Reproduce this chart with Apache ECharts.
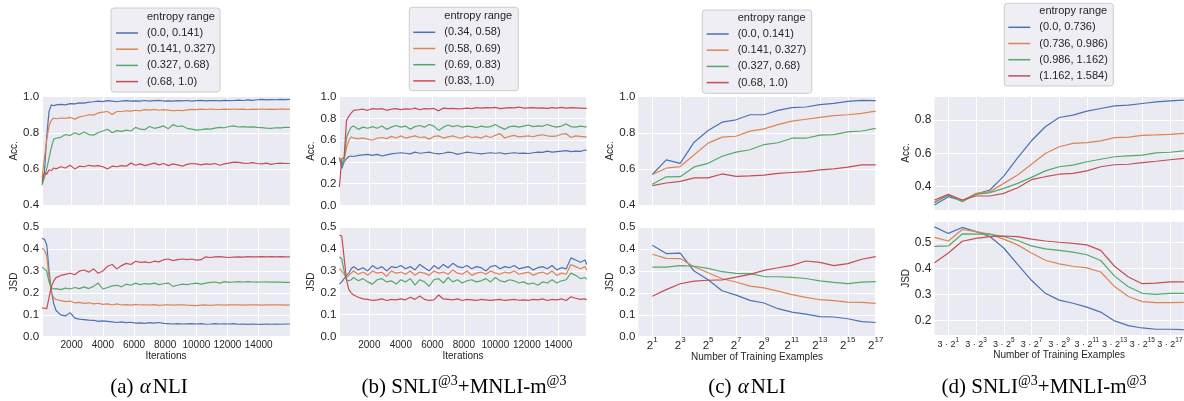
<!DOCTYPE html>
<html><head><meta charset="utf-8">
<script src="https://cdn.jsdelivr.net/npm/echarts@6.0.0/dist/echarts.min.js"></script>
<style>html,body{margin:0;padding:0;background:#fff}#c{width:1184px;height:401px}</style>
</head><body><div id="c"></div>
<script>
// ---------------- data ----------------
const NAMES_A = ['(0.0, 0.141)', '(0.141, 0.327)', '(0.327, 0.68)', '(0.68, 1.0)'];
const NAMES_B = ['(0.34, 0.58)', '(0.58, 0.69)', '(0.69, 0.83)', '(0.83, 1.0)'];
const NAMES_C = ['(0.0, 0.141)', '(0.141, 0.327)', '(0.327, 0.68)', '(0.68, 1.0)'];
const NAMES_D = ['(0.0, 0.736)', '(0.736, 0.986)', '(0.986, 1.162)', '(1.162, 1.584)'];
const LEGEND_TITLE = 'entropy range';

const ITERS_A = [100,250,400,550,700,850,1000,
 1300,1600,1900,2200,2500,2800,3100,3400,3700,4000,
 4300,4600,4900,5200,5500,5800,6100,6400,6700,7000,
 7300,7600,7900,8200,8500,8800,9100,9400,9700,10000,
 10300,10600,10900,11200,11500,11800,12100,12400,12700,13000,
 13300,13600,13900,14200,14500,14800,15100,15400,15700,16000];
const ITERS_B = [100,250,400,550,700,850,1000,
 1300,1600,1900,2200,2500,2800,3100,3400,3700,4000,
 4300,4600,4900,5200,5500,5800,6100,6400,6700,7000,
 7300,7600,7900,8200,8500,8800,9100,9400,9700,10000,
 10300,10600,10900,11200,11500,11800,12100,12400,12700,13000,
 13300,13600,13900,14200,14500,14800,15100,15400,15700,15800];

// (a) alphaNLI, accuracy
const A_ACC_0 = [0.52,0.58,0.78,0.92,0.955,0.95,0.955,
 0.958,0.955,0.962,0.96,0.966,0.964,0.97,0.972,0.975,0.973,
 0.978,0.975,0.972,0.976,0.978,0.975,0.977,0.976,0.979,0.975,
 0.978,0.98,0.976,0.977,0.975,0.978,0.977,0.979,0.976,0.978,
 0.98,0.977,0.978,0.979,0.977,0.98,0.978,0.979,0.981,0.979,
 0.982,0.98,0.983,0.985,0.982,0.984,0.983,0.985,0.984,0.985];
const A_ACC_1 = [0.55,0.66,0.76,0.84,0.87,0.882,0.878,
 0.882,0.88,0.885,0.876,0.888,0.893,0.9,0.898,0.91,0.915,
 0.918,0.902,0.918,0.918,0.922,0.92,0.925,0.922,0.928,0.926,
 0.93,0.925,0.928,0.926,0.922,0.925,0.923,0.927,0.93,0.928,
 0.931,0.929,0.932,0.93,0.929,0.931,0.93,0.932,0.93,0.931,
 0.929,0.931,0.93,0.932,0.93,0.931,0.93,0.932,0.931,0.93];
const A_ACC_2 = [0.51,0.55,0.6,0.66,0.72,0.765,0.77,
 0.775,0.79,0.785,0.8,0.79,0.805,0.79,0.787,0.8,0.81,
 0.82,0.8,0.812,0.808,0.815,0.81,0.83,0.82,0.818,0.835,
 0.825,0.83,0.838,0.823,0.845,0.835,0.838,0.825,0.82,0.815,
 0.818,0.822,0.82,0.826,0.83,0.828,0.835,0.838,0.832,0.834,
 0.831,0.833,0.83,0.829,0.826,0.825,0.828,0.827,0.83,0.83];
const A_ACC_3 = [0.535,0.58,0.57,0.595,0.59,0.605,0.6,
 0.612,0.605,0.62,0.6,0.615,0.612,0.62,0.615,0.618,0.612,
 0.6,0.615,0.612,0.618,0.615,0.632,0.62,0.628,0.618,0.625,
 0.632,0.622,0.63,0.618,0.628,0.622,0.615,0.625,0.63,0.628,
 0.622,0.628,0.625,0.63,0.62,0.628,0.632,0.638,0.636,0.632,
 0.63,0.635,0.63,0.628,0.632,0.625,0.63,0.632,0.63,0.63];
// (a) alphaNLI, JSD
const A_JSD_0 = [0.45,0.445,0.42,0.3,0.21,0.15,0.12,
 0.1,0.095,0.11,0.085,0.08,0.078,0.076,0.075,0.07,0.072,
 0.07,0.068,0.065,0.068,0.064,0.066,0.062,0.063,0.061,0.064,
 0.062,0.065,0.061,0.06,0.058,0.06,0.058,0.059,0.06,0.058,
 0.06,0.057,0.058,0.06,0.058,0.059,0.058,0.06,0.057,0.058,
 0.056,0.058,0.057,0.056,0.058,0.057,0.058,0.057,0.058,0.058];
const A_JSD_1 = [0.405,0.395,0.37,0.27,0.2,0.178,0.17,
 0.165,0.16,0.163,0.155,0.157,0.152,0.155,0.15,0.153,0.148,
 0.15,0.145,0.15,0.145,0.147,0.144,0.148,0.145,0.146,0.144,
 0.147,0.143,0.145,0.146,0.144,0.145,0.146,0.144,0.143,0.142,
 0.144,0.145,0.143,0.145,0.146,0.144,0.145,0.146,0.145,0.144,
 0.145,0.146,0.145,0.144,0.145,0.146,0.145,0.145,0.144,0.145];
const A_JSD_2 = [0.318,0.31,0.3,0.25,0.225,0.218,0.22,
 0.215,0.222,0.218,0.225,0.22,0.228,0.22,0.23,0.245,0.218,
 0.225,0.232,0.235,0.228,0.24,0.235,0.245,0.238,0.243,0.24,
 0.245,0.238,0.242,0.245,0.23,0.235,0.24,0.238,0.242,0.245,
 0.24,0.245,0.248,0.25,0.245,0.252,0.248,0.25,0.252,0.25,
 0.252,0.25,0.249,0.25,0.251,0.249,0.25,0.249,0.248,0.248];
const A_JSD_3 = [0.132,0.13,0.128,0.18,0.23,0.255,0.27,
 0.28,0.285,0.29,0.283,0.3,0.305,0.295,0.31,0.29,0.3,
 0.322,0.33,0.31,0.325,0.335,0.33,0.345,0.34,0.342,0.338,
 0.345,0.342,0.352,0.355,0.348,0.352,0.355,0.352,0.355,0.35,
 0.352,0.365,0.362,0.365,0.366,0.364,0.362,0.364,0.365,0.364,
 0.366,0.365,0.365,0.366,0.365,0.366,0.365,0.366,0.365,0.365];

// (b) SNLI+MNLI-m, accuracy
const B_ACC_0 = [0.44,0.34,0.4,0.43,0.45,0.455,0.45,
 0.46,0.465,0.47,0.46,0.47,0.455,0.465,0.475,0.48,0.485,
 0.48,0.475,0.49,0.48,0.485,0.49,0.48,0.475,0.48,0.49,
 0.485,0.47,0.48,0.49,0.485,0.48,0.475,0.48,0.485,0.48,
 0.485,0.475,0.48,0.485,0.48,0.482,0.478,0.485,0.49,0.488,
 0.5,0.49,0.495,0.5,0.505,0.495,0.5,0.498,0.51,0.505];
const B_ACC_1 = [0.44,0.38,0.42,0.53,0.6,0.63,0.62,
 0.615,0.62,0.61,0.6,0.62,0.625,0.615,0.635,0.62,0.64,
 0.62,0.63,0.64,0.625,0.63,0.61,0.635,0.64,0.62,0.63,
 0.64,0.625,0.62,0.64,0.625,0.63,0.62,0.64,0.625,0.645,
 0.66,0.62,0.635,0.645,0.63,0.635,0.64,0.632,0.645,0.65,
 0.64,0.635,0.64,0.655,0.66,0.625,0.64,0.635,0.63,0.63];
const B_ACC_2 = [0.44,0.37,0.43,0.62,0.68,0.72,0.73,
 0.7,0.72,0.71,0.725,0.71,0.73,0.7,0.72,0.735,0.72,
 0.73,0.7,0.725,0.735,0.72,0.745,0.73,0.69,0.72,0.74,
 0.725,0.735,0.72,0.73,0.725,0.715,0.73,0.72,0.725,0.745,
 0.72,0.7,0.725,0.73,0.72,0.73,0.74,0.725,0.732,0.728,
 0.745,0.73,0.72,0.73,0.75,0.725,0.72,0.73,0.722,0.725];
const B_ACC_3 = [0.17,0.43,0.44,0.78,0.82,0.85,0.875,
 0.88,0.885,0.875,0.89,0.885,0.89,0.875,0.885,0.89,0.882,
 0.888,0.885,0.895,0.88,0.89,0.888,0.892,0.87,0.895,0.89,
 0.893,0.888,0.89,0.895,0.89,0.9,0.895,0.9,0.898,0.902,
 0.89,0.895,0.9,0.898,0.905,0.895,0.898,0.9,0.895,0.898,
 0.892,0.9,0.895,0.902,0.895,0.9,0.898,0.895,0.892,0.892];
// (b) SNLI+MNLI-m, JSD
const B_JSD_0 = [0.24,0.25,0.265,0.28,0.29,0.31,0.32,
 0.305,0.315,0.3,0.325,0.31,0.32,0.3,0.32,0.315,0.325,
 0.31,0.32,0.305,0.33,0.315,0.3,0.325,0.31,0.33,0.315,
 0.335,0.32,0.315,0.325,0.31,0.32,0.315,0.3,0.32,0.325,
 0.31,0.32,0.315,0.325,0.31,0.315,0.32,0.305,0.315,0.32,
 0.31,0.325,0.305,0.315,0.31,0.36,0.35,0.34,0.35,0.33];
const B_JSD_1 = [0.31,0.3,0.285,0.27,0.28,0.29,0.3,
 0.285,0.295,0.28,0.3,0.29,0.295,0.275,0.3,0.29,0.295,
 0.285,0.3,0.28,0.295,0.29,0.28,0.3,0.29,0.295,0.285,
 0.305,0.29,0.285,0.3,0.28,0.29,0.295,0.285,0.3,0.29,
 0.285,0.295,0.29,0.3,0.285,0.29,0.295,0.28,0.29,0.295,
 0.285,0.3,0.28,0.29,0.285,0.33,0.32,0.31,0.32,0.305];
const B_JSD_2 = [0.365,0.355,0.3,0.26,0.255,0.26,0.27,
 0.255,0.265,0.25,0.24,0.26,0.265,0.25,0.255,0.24,0.26,
 0.25,0.265,0.235,0.26,0.25,0.23,0.26,0.265,0.245,0.27,
 0.25,0.26,0.245,0.255,0.26,0.25,0.255,0.265,0.25,0.27,
 0.255,0.25,0.26,0.255,0.245,0.25,0.24,0.245,0.235,0.25,
 0.245,0.26,0.245,0.255,0.26,0.29,0.28,0.265,0.27,0.262];
const B_JSD_3 = [0.465,0.46,0.36,0.26,0.215,0.2,0.19,
 0.18,0.172,0.17,0.165,0.168,0.172,0.165,0.17,0.168,0.172,
 0.168,0.18,0.17,0.185,0.17,0.165,0.168,0.19,0.172,0.17,
 0.168,0.172,0.165,0.17,0.168,0.165,0.17,0.168,0.165,0.168,
 0.17,0.165,0.168,0.17,0.166,0.168,0.165,0.17,0.168,0.172,
 0.165,0.17,0.168,0.172,0.165,0.182,0.175,0.17,0.172,0.168];

// (c) alphaNLI vs training examples (exponent of 2)
const C_CATS = ['0','1','2','3','4','5','6','7','8','9','10','11','12','13','14','15','16','17'];
const C_EXP = [1,2,3,4,5,6,7,8,9,10,11,12,13,14,15,16,17];
const C_ACC_0 = [0.569,0.65,0.631,0.748,0.813,0.859,0.872,0.9,0.9,0.924,0.939,0.943,0.956,0.963,0.974,0.98,0.978];
const C_ACC_1 = [0.569,0.604,0.613,0.678,0.743,0.776,0.781,0.809,0.822,0.845,0.865,0.875,0.885,0.895,0.9,0.908,0.92];
const C_ACC_2 = [0.515,0.556,0.557,0.611,0.631,0.67,0.693,0.706,0.735,0.745,0.77,0.77,0.787,0.79,0.805,0.81,0.825];
const C_ACC_3 = [0.507,0.522,0.531,0.55,0.55,0.572,0.559,0.561,0.565,0.575,0.58,0.585,0.595,0.6,0.61,0.622,0.622];
const C_JSD_0 = [0.418,0.38,0.382,0.3,0.26,0.21,0.19,0.166,0.154,0.128,0.112,0.103,0.092,0.09,0.082,0.069,0.065];
const C_JSD_1 = [0.377,0.358,0.357,0.32,0.292,0.265,0.25,0.231,0.223,0.208,0.192,0.18,0.169,0.165,0.158,0.157,0.152];
const C_JSD_2 = [0.318,0.318,0.325,0.322,0.312,0.297,0.289,0.288,0.275,0.274,0.271,0.266,0.255,0.248,0.243,0.249,0.252];
const C_JSD_3 = [0.185,0.215,0.242,0.254,0.258,0.26,0.272,0.285,0.303,0.315,0.326,0.346,0.34,0.325,0.334,0.354,0.366];

// (d) SNLI+MNLI-m vs training examples (3 * 2^k)
const D_CATS = ['0','1','2','3','4','5','6','7','8','9','10','11','12','13','14','15','16','17','18'];
const D_EXP = [0,1,2,3,4,5,6,7,8,9,10,11,12,13,14,15,16,17,18];
const D_ACC_0 = [0.29,0.34,0.316,0.356,0.38,0.464,0.573,0.676,0.76,0.816,0.83,0.854,0.87,0.886,0.89,0.9,0.91,0.916,0.92];
const D_ACC_1 = [0.31,0.35,0.316,0.36,0.37,0.42,0.47,0.535,0.6,0.64,0.66,0.665,0.675,0.695,0.698,0.708,0.711,0.715,0.72];
const D_ACC_2 = [0.304,0.35,0.31,0.354,0.364,0.39,0.42,0.456,0.495,0.52,0.53,0.55,0.565,0.58,0.585,0.59,0.603,0.607,0.615];
const D_ACC_3 = [0.32,0.354,0.32,0.344,0.344,0.36,0.394,0.442,0.46,0.475,0.48,0.495,0.52,0.532,0.535,0.545,0.553,0.562,0.57];
const D_JSD_0 = [0.56,0.535,0.558,0.542,0.523,0.479,0.416,0.355,0.305,0.279,0.267,0.252,0.233,0.199,0.181,0.172,0.167,0.167,0.166];
const D_JSD_1 = [0.52,0.506,0.55,0.542,0.532,0.513,0.491,0.46,0.432,0.418,0.409,0.403,0.387,0.331,0.293,0.273,0.269,0.269,0.27];
const D_JSD_2 = [0.485,0.487,0.533,0.532,0.532,0.523,0.508,0.487,0.476,0.47,0.463,0.453,0.431,0.371,0.33,0.305,0.301,0.305,0.305];
const D_JSD_3 = [0.422,0.46,0.505,0.516,0.523,0.525,0.523,0.513,0.506,0.501,0.497,0.491,0.47,0.409,0.368,0.342,0.344,0.349,0.349];

// ---------------- styling ----------------
const COLORS = ['#4C72B0', '#DD8452', '#55A868', '#C44E52'];
const SANS = 'Liberation Sans';
const SERIF = 'Liberation Serif';
const TXT = '#262626';
const BG = '#EAEAF2';

const GRIDS = [
  {left: 42.06, top: 96.7, width: 247.8, height: 108.3},
  {left: 42.06, top: 227.3, width: 247.8, height: 109.4},
  {left: 339.4, top: 96.7, width: 247.3, height: 108.8},
  {left: 339.4, top: 227.3, width: 247.3, height: 109.2},
  {left: 638.3, top: 96.7, width: 237.4, height: 108.3},
  {left: 638.3, top: 227.3, width: 237.4, height: 109.4},
  {left: 934.5, top: 96, width: 249.3, height: 114},
  {left: 934.5, top: 221.7, width: 249.3, height: 113.3}
].map(g => Object.assign({show: true, backgroundColor: BG, borderWidth: 0, containLabel: false, outerBoundsMode: 'none'}, g));

const noLine = {axisLine: {show: false}, axisTick: {show: false}};
const white = {show: true, lineStyle: {color: '#ffffff', width: 1}};

function iterAxis(gi, max, show) {
  return Object.assign({
    type: 'value', gridIndex: gi, min: 100, max: max, splitNumber: 8,
    splitLine: white,
    axisLabel: {show: show, showMinLabel: false, showMaxLabel: false, margin: 4, fontSize: 10, fontFamily: SANS, color: TXT,
      formatter: (v) => String(v)},
    name: show ? 'Iterations' : '', nameLocation: 'middle', nameGap: 14,
    nameTextStyle: {fontSize: 10, fontFamily: SANS, color: TXT}
  }, noLine);
}
const oddIdx = (i) => i % 2 === 1;
function expAxis(gi, cats, show, kind) {
  const fmt = kind === 'c' ? (v) => '{b|2}{s|' + v + '}' : (v) => '{b|3 · 2}{s|' + v + '}';
  const rich = kind === 'c'
    ? {b: {fontSize: 11.5, fontFamily: SANS, color: TXT, lineHeight: 16, verticalAlign: 'bottom'},
       s: {fontSize: 8, fontFamily: SANS, color: TXT, lineHeight: 4, verticalAlign: 'top'}}
    : {b: {fontSize: 9, fontFamily: SANS, color: TXT, lineHeight: 12, verticalAlign: 'bottom'},
       s: {fontSize: 6.5, fontFamily: SANS, color: TXT, lineHeight: 4, verticalAlign: 'top'}};
  return Object.assign({
    type: 'category', gridIndex: gi, data: cats, boundaryGap: false,
    splitLine: Object.assign({interval: oddIdx}, white),
    axisLabel: {show: show, interval: oddIdx, formatter: fmt, rich: rich, margin: kind === 'c' ? -1 : 2},
    name: show ? 'Number of Training Examples' : '', nameLocation: 'middle', nameGap: kind === 'c' ? 12 : 14,
    nameTextStyle: {fontSize: 10, fontFamily: SANS, color: TXT}
  }, noLine);
}
function valAxis(gi, name, o) {
  const ax = Object.assign({
    type: 'value', gridIndex: gi, min: o.min, max: o.max,
    splitLine: white,
    axisLabel: {margin: 3, fontSize: o.fs || 11.5, fontFamily: SANS, color: TXT,
      formatter: (v) => v.toFixed(1)},
    name: name, nameLocation: 'middle', nameRotate: 90, nameGap: o.gap,
    nameTextStyle: {fontSize: 10, fontFamily: SANS, color: TXT}
  }, noLine);
  if (o.interval) ax.interval = o.interval;
  if (o.split) { ax.splitNumber = o.split; ax.axisLabel.showMinLabel = false; ax.axisLabel.showMaxLabel = false; }
  return ax;
}

const xAxes = [
  iterAxis(0, 16000, false), iterAxis(1, 16000, true),
  iterAxis(2, 15800, false), iterAxis(3, 15800, true),
  expAxis(4, C_CATS, false, 'c'), expAxis(5, C_CATS, true, 'c'),
  expAxis(6, D_CATS, false, 'd'), expAxis(7, D_CATS, true, 'd')
];
const yAxes = [
  valAxis(0, 'Acc.', {min: 0.4, max: 1.0, interval: 0.2, gap: 21}),
  valAxis(1, 'JSD', {min: 0, max: 0.5, interval: 0.1, gap: 21}),
  valAxis(2, 'Acc.', {min: 0, max: 1.0, interval: 0.2, gap: 19}),
  valAxis(3, 'JSD', {min: 0, max: 0.5, interval: 0.1, gap: 21}),
  valAxis(4, 'Acc.', {min: 0.4, max: 1.0, interval: 0.2, gap: 21}),
  valAxis(5, 'JSD', {min: 0, max: 0.5, interval: 0.1, gap: 22}),
  valAxis(6, 'Acc.', {min: 0.26, max: 0.945, split: 3, gap: 19, fs: 12}),
  valAxis(7, 'JSD', {min: 0.145, max: 0.58, split: 4, gap: 21, fs: 12})
];

function mk(name, ci, axis, xs, ys) {
  return {
    type: 'line', name: name, xAxisIndex: axis, yAxisIndex: axis,
    data: xs.map((x, i) => [x, ys[i]]),
    symbol: 'none', showSymbol: false, silent: true, animation: false,
    lineStyle: {color: COLORS[ci], width: 1.2}, itemStyle: {color: COLORS[ci]}, z: 3
  };
}
const series = [
  mk(NAMES_A[0], 0, 0, ITERS_A, A_ACC_0), mk(NAMES_A[1], 1, 0, ITERS_A, A_ACC_1),
  mk(NAMES_A[2], 2, 0, ITERS_A, A_ACC_2), mk(NAMES_A[3], 3, 0, ITERS_A, A_ACC_3),
  mk(NAMES_A[0], 0, 1, ITERS_A, A_JSD_0), mk(NAMES_A[1], 1, 1, ITERS_A, A_JSD_1),
  mk(NAMES_A[2], 2, 1, ITERS_A, A_JSD_2), mk(NAMES_A[3], 3, 1, ITERS_A, A_JSD_3),
  mk(NAMES_B[0], 0, 2, ITERS_B, B_ACC_0), mk(NAMES_B[1], 1, 2, ITERS_B, B_ACC_1),
  mk(NAMES_B[2], 2, 2, ITERS_B, B_ACC_2), mk(NAMES_B[3], 3, 2, ITERS_B, B_ACC_3),
  mk(NAMES_B[0], 0, 3, ITERS_B, B_JSD_0), mk(NAMES_B[1], 1, 3, ITERS_B, B_JSD_1),
  mk(NAMES_B[2], 2, 3, ITERS_B, B_JSD_2), mk(NAMES_B[3], 3, 3, ITERS_B, B_JSD_3),
  mk(NAMES_C[0], 0, 4, C_EXP, C_ACC_0), mk(NAMES_C[1], 1, 4, C_EXP, C_ACC_1),
  mk(NAMES_C[2], 2, 4, C_EXP, C_ACC_2), mk(NAMES_C[3], 3, 4, C_EXP, C_ACC_3),
  mk(NAMES_C[0], 0, 5, C_EXP, C_JSD_0), mk(NAMES_C[1], 1, 5, C_EXP, C_JSD_1),
  mk(NAMES_C[2], 2, 5, C_EXP, C_JSD_2), mk(NAMES_C[3], 3, 5, C_EXP, C_JSD_3),
  mk(NAMES_D[0], 0, 6, D_EXP, D_ACC_0), mk(NAMES_D[1], 1, 6, D_EXP, D_ACC_1),
  mk(NAMES_D[2], 2, 6, D_EXP, D_ACC_2), mk(NAMES_D[3], 3, 6, D_EXP, D_ACC_3),
  mk(NAMES_D[0], 0, 7, D_EXP, D_JSD_0), mk(NAMES_D[1], 1, 7, D_EXP, D_JSD_1),
  mk(NAMES_D[2], 2, 7, D_EXP, D_JSD_2), mk(NAMES_D[3], 3, 7, D_EXP, D_JSD_3)
];

// legend boxes: [boxX, boxY, boxW, boxH, iconLeft, firstRowCenter, names]
const LEG = [
  [111, 8, 109, 84, 116, 33, NAMES_A],
  [409.3, 7.3, 109, 83.4, 413.3, 32.3, NAMES_B],
  [702.3, 10, 109.4, 83.3, 706.7, 34, NAMES_C],
  [1004.3, 3.3, 109, 82.7, 1008.3, 27.3, NAMES_D]
];
const ROW = 16.2;
const legends = LEG.map(l => ({
  show: true, orient: 'vertical', left: l[4], top: l[5] - ROW / 2, padding: 0, itemGap: 0,
  itemWidth: 22, itemHeight: 1.5, icon: 'rect', selectedMode: false, data: l[6], z: 10,
  textStyle: {fontFamily: SANS, fontSize: 11, color: TXT, lineHeight: ROW, padding: [0, 0, 0, 4]}
}));
const graphics = [];
LEG.forEach(l => {
  graphics.push({type: 'rect', z: 1, shape: {x: l[0], y: l[1], width: l[2], height: l[3], r: 3},
    style: {fill: '#EEEEF4', stroke: '#CCCCCC', lineWidth: 1}});
  graphics.push({type: 'text', z: 11, x: l[4] + 31, y: l[5] - ROW,
    style: {text: LEGEND_TITLE, fontFamily: SANS, fontSize: 11, fill: TXT, align: 'left', verticalAlign: 'middle'}});
});
const capRich = {
  n: {fontFamily: SERIF, fontSize: 21, lineHeight: 24, verticalAlign: 'bottom', fill: '#000'},
  i: {fontFamily: SERIF, fontSize: 21, lineHeight: 24, verticalAlign: 'bottom', fontStyle: 'italic', fill: '#000', padding: [0, 2, 0, 1]},
  s: {fontFamily: SERIF, fontSize: 14, lineHeight: 12, verticalAlign: 'top', fill: '#000'}
};
const CAPTIONS = [
  [149, '{n|(a) }{i|α}{n|NLI}'],
  [464, '{n|(b) SNLI}{s|@3}{n|+MNLI-m}{s|@3}'],
  [747, '{n|(c) }{i|α}{n|NLI}'],
  [1044, '{n|(d) SNLI}{s|@3}{n|+MNLI-m}{s|@3}']
];
CAPTIONS.forEach(c => graphics.push({type: 'text', z: 11, x: c[0], y: 386,
  style: {text: c[1], rich: capRich, align: 'center', verticalAlign: 'middle'}}));

const chart = echarts.init(document.getElementById('c'), null, {renderer: 'canvas'});
chart.setOption({
  animation: false,
  backgroundColor: '#ffffff',
  grid: GRIDS,
  xAxis: xAxes,
  yAxis: yAxes,
  legend: legends,
  series: series,
  graphic: {elements: graphics}
});
</script></body></html>
